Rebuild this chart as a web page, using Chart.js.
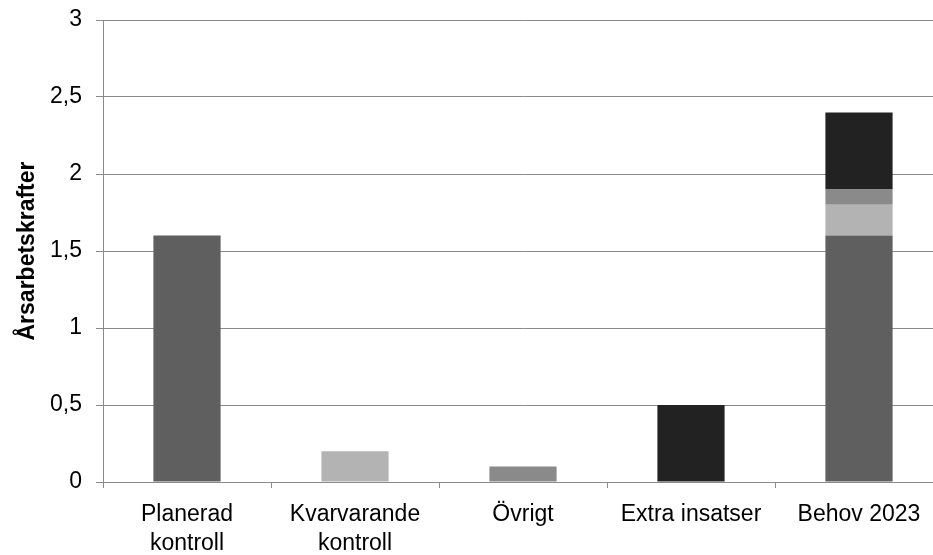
<!DOCTYPE html>
<html>
<head>
<meta charset="utf-8">
<script src="https://cdn.jsdelivr.net/npm/chart.js@4/dist/chart.umd.min.js"></script>
<style>
  html, body { margin: 0; padding: 0; background: #fff; overflow: hidden; }
  #wrap { width: 943px; height: 555px; position: relative; }
</style>
</head>
<body>
<div id="wrap"><canvas id="chart"></canvas></div>
<script>
/* ===================== DATA ===================== */

const categories = [["Planerad", "kontroll"], ["Kvarvarande", "kontroll"], "Övrigt", "Extra insatser", "Behov 2023"];

const planerad   = [1.6, null, null, null, 1.6];
const kvarvarande = [null, 0.2, null, null, 0.2];
const ovrigt     = [null, null, 0.1, null, 0.1];
const extra      = [null, null, null, 0.5, 0.5];

const yTicks = [0, 0.5, 1, 1.5, 2, 2.5, 3];

/* ===================== STYLE ===================== */

const GRID = "#8a8a8a";
const FONT = "'Liberation Sans', Arial, sans-serif";

function ds(data, color) {
  return { data, backgroundColor: color, borderWidth: 0, barPercentage: 0.4, categoryPercentage: 1 };
}

/* ===================== CHART ===================== */

new Chart(document.getElementById("chart"), {
  type: "bar",
  data: {
    labels: categories,
    datasets: [
      ds(planerad, "#5f5f5f"),
      ds(kvarvarande, "#b3b3b3"),
      ds(ovrigt, "#8a8a8a"),
      ds(extra, "#222222")
    ]
  },
  options: {
    responsive: true,
    maintainAspectRatio: false,
    animation: false,
    layout: { padding: { top: 20, left: 0, right: 0, bottom: 0 } },
    plugins: { legend: { display: false }, tooltip: { enabled: false } },
    scales: {
      x: {
        stacked: true,
        grid: { display: true, offset: true, drawOnChartArea: false, color: GRID, tickLength: 6 },
        border: { color: GRID, width: 1 },
        ticks: { color: "#000", font: { family: FONT, size: 23, lineHeight: 1.27 }, maxRotation: 0, autoSkip: false, padding: 12 },
        afterFit: s => { s.height = 73; s.paddingLeft = 0; s.paddingRight = 0; }
      },
      y: {
        stacked: true,
        min: 0,
        max: 3,
        afterBuildTicks: s => { s.ticks = yTicks.map(v => ({ value: v })); },
        grid: { color: GRID, tickLength: 7 },
        border: { color: GRID, width: 1 },
        ticks: {
          color: "#000",
          font: { family: FONT, size: 23 },
          padding: 14,
          callback: v => String(v).replace(".", ",")
        },
        title: {
          display: true,
          text: "Årsarbetskrafter",
          color: "#000",
          font: { family: FONT, size: 23, weight: "bold" },
          padding: { top: 14, bottom: 0 }
        },
        afterFit: s => { s.width = 103; s.paddingTop = 0; s.paddingBottom = 0; }
      }
    }
  }
});
</script>
</body>
</html>
